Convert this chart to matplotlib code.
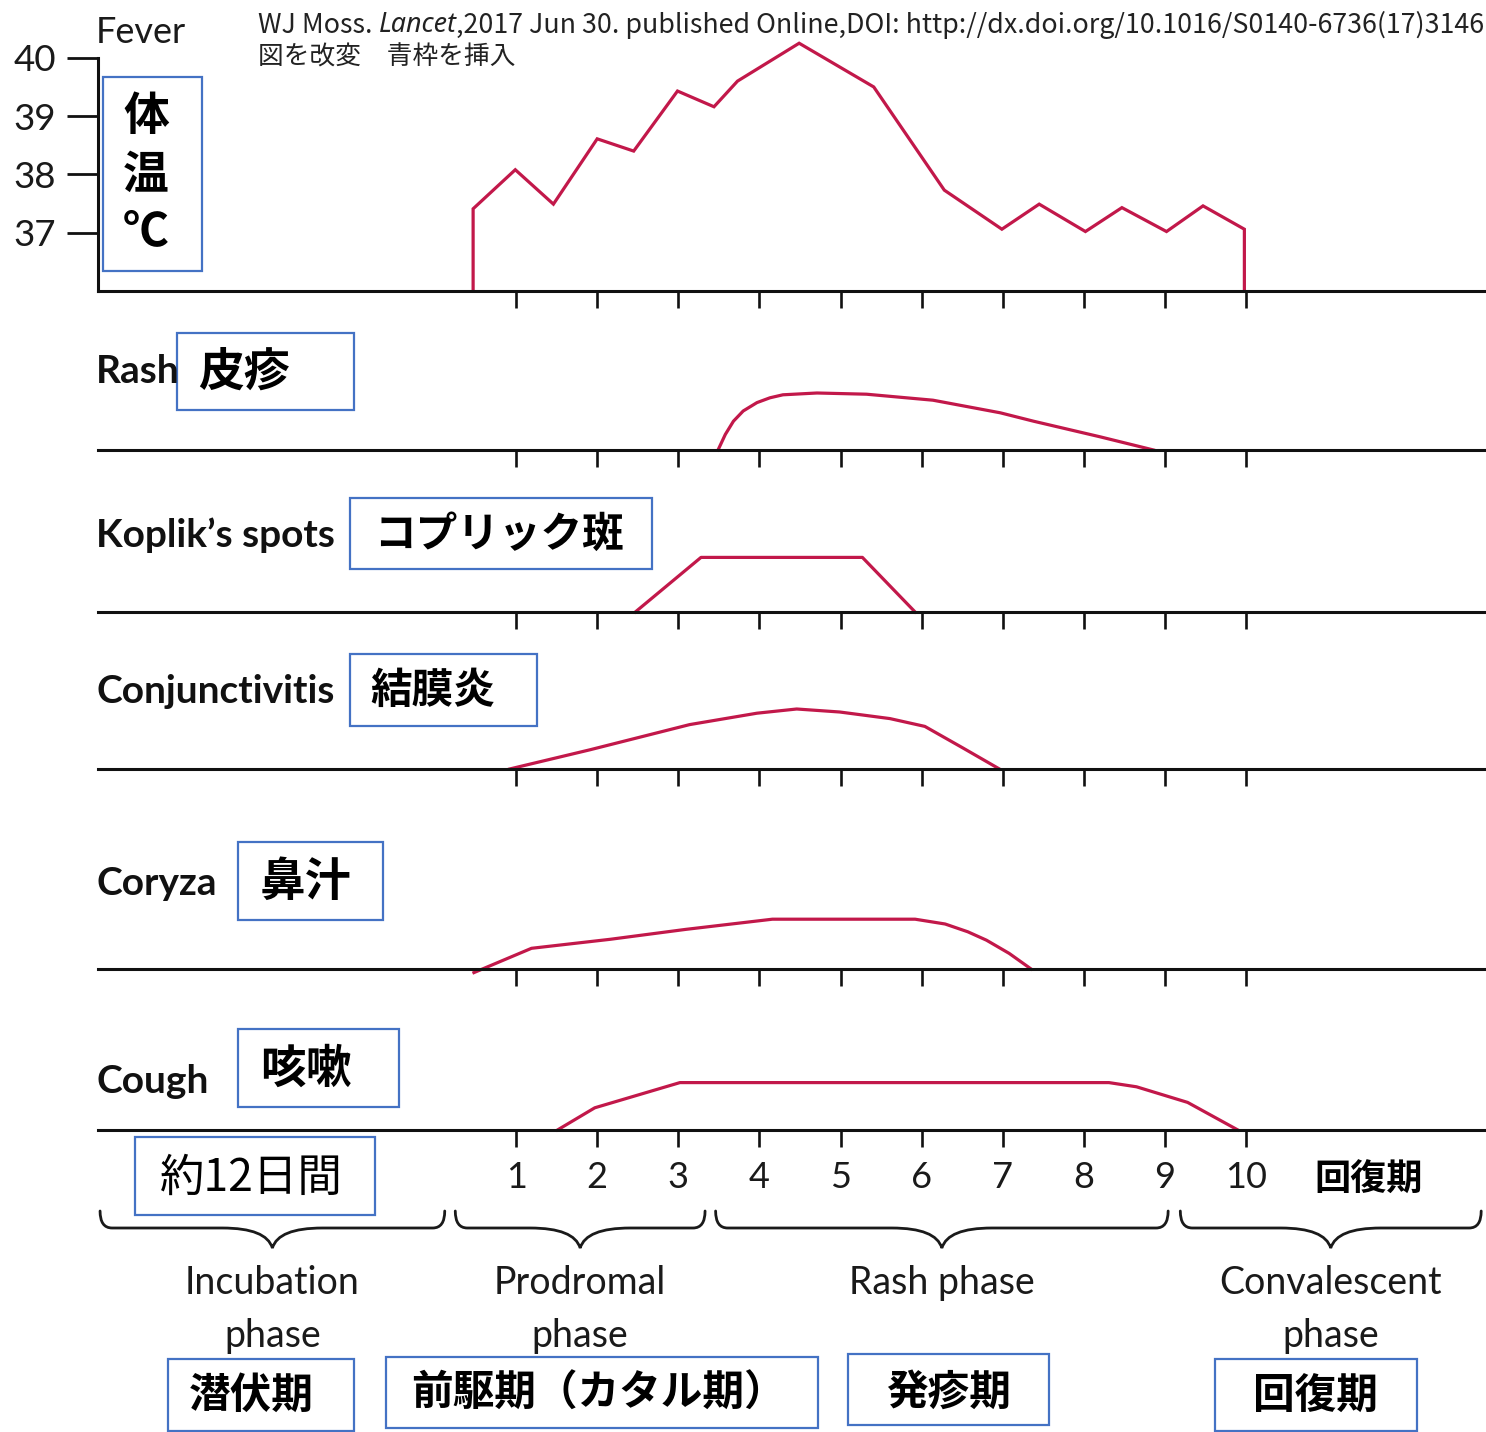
import matplotlib
matplotlib.use("Agg")
import matplotlib.pyplot as plt
from matplotlib.patches import Rectangle, PathPatch
from matplotlib.path import Path

W, H, DPI = 1486, 1432, 100
RED = "#C2184A"
BLUE = "#4472C4"
INK = "#111111"
LATIN = ["Lato", "Noto Sans CJK JP", "DejaVu Sans"]
CJK = ["Noto Sans CJK JP", "DejaVu Sans"]

plt.rcParams["font.family"] = LATIN

# ---------------- data ----------------
days = [1, 2, 3, 4, 5, 6, 7, 8, 9, 10]
day_labels = ["1", "2", "3", "4", "5", "6", "7", "8", "9", "10"]
temp_ticks = [37, 38, 39, 40]
temp_labels = ["37", "38", "39", "40"]

fever_day = [0.47, 0.47, 0.99, 1.46, 2.00, 2.45, 2.99, 3.44, 3.73, 4.49,
             5.41, 6.28, 6.99, 7.45, 8.02, 8.47, 9.02, 9.47, 9.98, 9.98]
fever_temp = [36.0, 37.41, 38.08, 37.49, 38.61, 38.40, 39.43, 39.16, 39.60, 40.25,
              39.50, 37.73, 37.06, 37.49, 37.02, 37.43, 37.02, 37.46, 37.06, 36.0]

rash_day = [3.49, 3.58, 3.68, 3.80, 3.97, 4.13, 4.29, 4.71, 5.32, 6.14,
            6.97, 7.38, 7.79, 8.20, 8.41, 8.86]
rash_level = [0, 0.26, 0.48, 0.65, 0.79, 0.87, 0.92, 0.95, 0.93, 0.83,
              0.62, 0.48, 0.35, 0.22, 0.15, 0]

koplik_day = [2.47, 3.28, 5.27, 5.92]
koplik_level = [0, 0.91, 0.91, 0]

conj_day = [0.92, 1.91, 3.14, 3.97, 4.46, 4.99, 5.61, 6.04, 6.51, 6.96]
conj_level = [0, 0.32, 0.74, 0.93, 1.0, 0.95, 0.84, 0.71, 0.35, 0]

coryza_day = [0.48, 1.19, 2.16, 3.09, 4.16, 5.92, 6.29, 6.57, 6.80, 7.08, 7.35]
coryza_level = [-0.06, 0.345, 0.495, 0.66, 0.83, 0.83, 0.75, 0.62, 0.48, 0.26, 0]

cough_day = [1.51, 1.97, 3.02, 8.31, 8.65, 9.28, 9.90]
cough_level = [0, 0.37, 0.79, 0.79, 0.72, 0.46, 0]

phase_spans = [(-4.13, 0.12), (0.25, 3.33), (3.46, 9.04), (9.19, 12.9)]
phase_names = [["Incubation", "phase"], ["Prodromal", "phase"],
               ["Rash phase"], ["Convalescent", "phase"]]

# ---------------- layout ----------------
DAY0_PX, DAY_PX = 435.0, 81.1      # horizontal position of day 0 and width of one day
AX_L, AX_R = 98.0, 1486.0
XLIM = ((AX_L - DAY0_PX) / DAY_PX, (AX_R - DAY0_PX) / DAY_PX)
LEVEL_PX = 60.0                    # pixels per unit of symptom intensity
PANEL_H = 81.0

fig = plt.figure(figsize=(W / DPI, H / DPI), dpi=DPI)
fig.patch.set_facecolor("white")

ov = fig.add_axes([0, 0, 1, 1])
ov.set_xlim(0, W)
ov.set_ylim(H, 0)
ov.axis("off")


def day_px(d):
    return DAY0_PX + DAY_PX * d


def panel(base_px, top_px):
    ax = fig.add_axes([AX_L / W, 1 - base_px / H, (AX_R - AX_L) / W, (base_px - top_px) / H])
    ax.patch.set_visible(False)
    ax.set_xlim(*XLIM)
    for s in ("top", "right", "left"):
        ax.spines[s].set_visible(False)
    ax.spines["bottom"].set_linewidth(2.2)
    ax.spines["bottom"].set_color(INK)
    ax.set_xticks(days)
    ax.set_xticklabels(day_labels)
    ax.tick_params(axis="x", direction="out", length=12.5, width=1.9, color=INK,
                   labelbottom=False)
    ax.set_yticks([])
    return ax


# Fever panel
axf = panel(291, 40)
axf.set_ylim(36, 36 + (291 - 40) / 58.3)
axf.spines["left"].set_visible(True)
axf.spines["left"].set_linewidth(2.2)
axf.spines["left"].set_color(INK)
axf.spines["left"].set_bounds(36, 40)
axf.set_yticks(temp_ticks)
axf.set_yticklabels(temp_labels)
axf.tick_params(axis="y", direction="out", length=22, width=2.0, color=INK,
                labelsize=26.5, pad=8, labelcolor="#1a1a1a")
axf.plot(fever_day, fever_temp, color=RED, lw=2.3, clip_on=False, solid_joinstyle="miter")

# Symptom panels
symptoms = [
    (450, rash_day, rash_level),
    (612, koplik_day, koplik_level),
    (769, conj_day, conj_level),
    (969, coryza_day, coryza_level),
    (1130, cough_day, cough_level),
]
axes = []
for base, dd, lv in symptoms:
    ax = panel(base, base - PANEL_H)
    ax.set_ylim(0, PANEL_H / LEVEL_PX)
    ax.plot(dd, lv, color=RED, lw=2.3, clip_on=False)
    axes.append(ax)

ax_last = axes[-1]
ax_last.tick_params(axis="x", labelbottom=True, labelsize=26, pad=10, labelcolor="#1a1a1a")

# ---------------- texts ----------------
ov.text(96, 43, "Fever", fontsize=26, color="#1a1a1a", va="baseline", ha="left")
for txt, y in [("Rash", 383), ("Koplik’s spots", 547), ("Conjunctivitis", 703),
               ("Coryza", 895), ("Cough", 1093)]:
    ov.text(96, y, txt, fontsize=28, fontweight="bold", color="#111111",
            va="baseline", ha="left")

# citation
t1 = ov.text(258, 33, "WJ Moss. ", fontsize=19.3, family=CJK, color="#222222", va="baseline")
t2 = ov.annotate("Lancet", xy=(1, 0), xycoords=t1, va="bottom", ha="left", fontsize=19.3,
                 family=["Noto Sans", "DejaVu Sans"], fontstyle="italic", color="#222222")
ov.annotate(",2017 Jun 30. published Online,DOI: http://dx.doi.org/10.1016/S0140-6736(17)3146",
            xy=(1, 0), xycoords=t2, va="bottom", ha="left", fontsize=19.3, family=CJK,
            color="#222222")
ov.text(258, 65, "図を改変　青枠を挿入", fontsize=18.5, family=CJK, color="#222222",
        va="baseline")


def boxed(text, box, center, fs, weight="bold"):
    x0, y0, x1, y1 = box
    ov.add_patch(Rectangle((x0, y0), x1 - x0, y1 - y0, fill=False, ec=BLUE, lw=1.6))
    em = fs * DPI / 72.0
    ov.text(center[0], center[1] + 0.38 * em, text, fontsize=fs, fontweight=weight,
            family=CJK, color="black", ha="center", va="baseline")


# temperature box (vertical label)
ov.add_patch(Rectangle((103, 77), 99, 194, fill=False, ec=BLUE, lw=1.6))
for ch, cy in [("体", 113), ("温", 171), ("℃", 228)]:
    em = 33 * DPI / 72.0
    ov.text(146, cy + 0.38 * em, ch, fontsize=33, fontweight="bold", family=CJK,
            color="black", ha="center", va="baseline")

boxed("皮疹", (177, 333, 354, 410), (244, 368), 33)
boxed("コプリック斑", (350, 498, 652, 569), (499, 531), 30)
boxed("結膜炎", (350, 654, 537, 726), (433, 687), 30)
boxed("鼻汁", (238, 842, 383, 920), (305, 878), 33)
boxed("咳嗽", (238, 1029, 399, 1107), (306, 1065), 33)
boxed("約12日間", (135, 1137, 375, 1215), (251, 1174), 32, weight="normal")
boxed("潜伏期", (168, 1359, 354, 1431), (251, 1392), 30)
boxed("前駆期（カタル期）", (386, 1357, 818, 1428), (598, 1390), 30)
boxed("発疹期", (848, 1354, 1049, 1425), (948, 1389), 30)
boxed("回復期", (1215, 1359, 1417, 1431), (1315, 1393), 30)

em26 = 26 * DPI / 72.0
ov.text(1369, 1177 + 0.38 * em26, "回復期", fontsize=26, fontweight="bold", family=CJK,
        color="black", ha="center", va="baseline")


# ---------------- phase braces ----------------
def brace(x0, x1, ytop=1211, ymid=1228, ytip=1248, r=12, w=50):
    xm = 0.5 * (x0 + x1)
    verts = [(x0, ytop), (x0, ymid), (x0 + r, ymid), (xm - w, ymid),
             (xm - 0.12 * w, ymid), (xm, ytip), (xm + 0.12 * w, ymid), (xm + w, ymid),
             (x1 - r, ymid), (x1, ymid), (x1, ytop)]
    codes = [Path.MOVETO, Path.CURVE3, Path.CURVE3, Path.LINETO,
             Path.CURVE3, Path.CURVE3, Path.CURVE3, Path.CURVE3,
             Path.LINETO, Path.CURVE3, Path.CURVE3]
    ov.add_patch(PathPatch(Path(verts, codes), fill=False, ec="#1a1a1a", lw=2.0,
                           capstyle="round", joinstyle="miter"))
    return xm


for (d0, d1), lines in zip(phase_spans, phase_names):
    xm = brace(day_px(d0), day_px(d1))
    for i, line in enumerate(lines):
        ov.text(xm, 1294 + 53 * i, line, fontsize=27, color="#1a1a1a",
                ha="center", va="baseline")

fig.savefig("out.png", dpi=DPI, facecolor="white")
